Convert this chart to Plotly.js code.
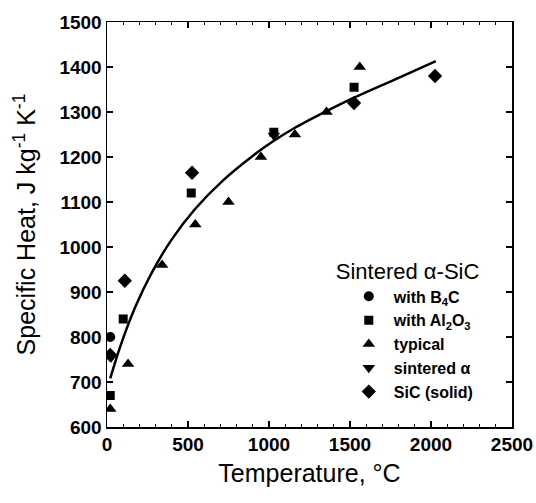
<!DOCTYPE html>
<html>
<head>
<meta charset="utf-8">
<script src="https://cdn.plot.ly/plotly-3.0.1.min.js"></script>
<style>html,body{margin:0;padding:0;background:#fff;}#chart{width:536px;height:503px;}</style>
</head>
<body>
<div id="chart"></div>
<script>
// Sintered alpha-SiC specific heat data
const b4cT = [20];
const b4cCp = [800];
const al2o3T = [20, 100, 520, 1030, 1525];
const al2o3Cp = [670, 840, 1120, 1255, 1355];
const typicalT = [20, 130, 340, 545, 750, 950, 1160, 1355, 1560];
const typicalCp = [640, 740, 960, 1050, 1100, 1200, 1250, 1300, 1400];
const sinteredT = [25, 1030];
const sinteredCp = [755, 1248];
const solidT = [20, 110, 525, 1525, 2025];
const solidCp = [760, 925, 1165, 1320, 1380];
const fitT = [20, 80, 175, 275, 400, 545, 710, 905, 1030, 1160, 1355, 1525, 1800, 2030];
const fitCp = [708, 777, 867, 942, 1017, 1085, 1146, 1204, 1236, 1265, 1302, 1332, 1376, 1413];

const mk = (sym, size) => ({symbol: sym, size: size, color: '#000'});
const data = [
  {x: fitT, y: fitCp, mode: 'lines', line: {color: '#000', width: 2.5, shape: 'spline', smoothing: 0.8}, showlegend: false, hoverinfo: 'skip'},
  {x: b4cT, y: b4cCp, mode: 'markers', name: 'with B<sub>4</sub>C', marker: mk('circle', 10)},
  {x: al2o3T, y: al2o3Cp, mode: 'markers', name: 'with Al<sub>2</sub>O<sub>3</sub>', marker: mk('square', 9)},
  {x: typicalT, y: typicalCp, mode: 'markers', name: 'typical', marker: mk('triangle-up', 11)},
  {x: sinteredT, y: sinteredCp, mode: 'markers', name: 'sintered α', marker: mk('triangle-down', 11)},
  {x: solidT, y: solidCp, mode: 'markers', name: 'SiC (solid)', marker: mk('diamond', 11)}
];

const axisCommon = {
  showgrid: false, zeroline: false, showline: true, linecolor: '#000', linewidth: 1.5,
  mirror: 'ticks', ticks: 'inside', ticklen: 6, tickwidth: 1.5, tickcolor: '#000',
  tickfont: {family: 'Liberation Sans, Arial, sans-serif', size: 19, color: '#000', weight: 'bold'}
};

const layout = {
  width: 536, height: 503,
  margin: {l: 107, r: 24, t: 22, b: 76},
  paper_bgcolor: '#fff', plot_bgcolor: '#fff',
  font: {family: 'Liberation Sans, Arial, sans-serif', color: '#000'},
  xaxis: Object.assign({}, axisCommon, {
    range: [0, 2500], dtick: 500, tick0: 0,
    minor: {dtick: 100, ticks: 'inside', ticklen: 3, tickwidth: 1, tickcolor: '#000'},
    title: {text: 'Temperature, °C', font: {size: 25, color: '#000'}, standoff: 10}
  }),
  yaxis: Object.assign({}, axisCommon, {
    range: [600, 1500], dtick: 100, tick0: 600,
    title: {text: 'Specific Heat, J kg<sup>-1</sup> K<sup>-1</sup>', font: {size: 25, color: '#000'}, standoff: 16}
  }),
  legend: {
    x: 0.56, y: 0.435, xanchor: 'left', yanchor: 'top',
    bgcolor: 'rgba(0,0,0,0)', borderwidth: 0,
    font: {size: 16, color: '#000', weight: 'bold'},
    title: {text: 'Sintered α-SiC', font: {size: 22, color: '#000', weight: 'normal'}},
    tracegroupgap: 0, itemwidth: 40, indentation: 10
  }
};

Plotly.newPlot('chart', data, layout, {displayModeBar: false, staticPlot: true});
</script>
</body>
</html>
